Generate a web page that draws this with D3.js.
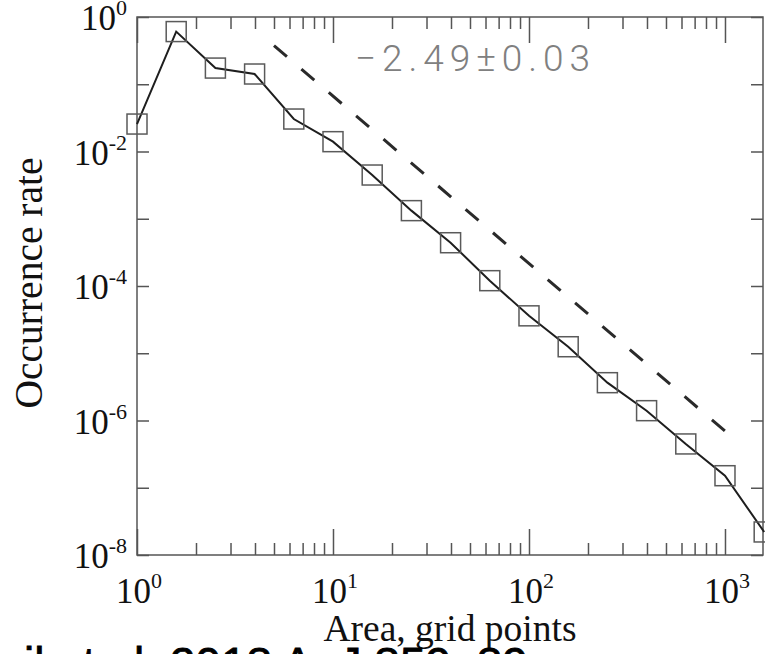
<!DOCTYPE html>
<html><head><meta charset="utf-8">
<script src="https://cdn.jsdelivr.net/npm/d3@7"></script>
<style>
  body { margin: 0; background: #fff; }
  svg { display: block; }
</style>
</head><body>
<svg id="chart" width="765" height="654"></svg>
<script>
// Occurrence rate of region areas in log-spaced bins
const areas = [1, 1.585, 2.512, 3.981, 6.310, 10, 15.85, 25.12, 39.81, 63.10, 100, 158.5, 251.2, 398.1, 631.0, 1000, 1585];
const rates = [0.0256, 0.607, 0.174, 0.142, 0.0304, 0.0140, 4.47e-3, 1.32e-3, 4.4e-4, 1.2e-4, 3.6e-5, 1.25e-5, 3.65e-6, 1.4e-6, 4.48e-7, 1.51e-7, 2.2e-8];

// Power-law fit (dashed)
const fitSlope = -2.49;
const fitErr = 0.03;
const fitNorm = 20.6;
const fitRange = [5, 1000];

// Axis ticks
const xMajorTicks = [1, 10, 100, 1000];
const xTickExps = ["0", "1", "2", "3"];
const yMajorTicks = [1, 1e-2, 1e-4, 1e-6, 1e-8];
const yTickExps = ["0", "-2", "-4", "-6", "-8"];
const yMinorTicks = [1e-1, 1e-3, 1e-5, 1e-7];

const xTitle = "Area, grid points";
const yTitle = "Occurrence rate";
const citation = "il et al. 2018 ApJ 859, 89";

const svg = d3.select("#chart");
const plotLeft = 137, plotRight = 763, plotTop = 17, plotBottom = 555;

const x = d3.scaleLog().domain([1, 1563]).range([plotLeft, plotRight]);
const y = d3.scaleLog().domain([1e-8, 1]).range([plotBottom, plotTop]);

const xMinorTicks = [];
[1, 10, 100, 1000].forEach(d => {
  for (let m = 2; m <= 9; m++) if (d * m < x.domain()[1]) xMinorTicks.push(d * m);
});

const serif = "'Liberation Serif', 'Times New Roman', serif";
const frameColor = "#555";

function styleAxis(g) {
  g.select(".domain").remove();
  g.selectAll(".tick line").attr("stroke", frameColor).attr("stroke-width", 1.5);
  g.selectAll(".tick text").remove();
}

// minor and major ticks on all four sides
svg.append("g").attr("transform", `translate(0,${plotBottom})`)
  .call(d3.axisBottom(x).tickValues(xMinorTicks).tickSize(-12)).call(styleAxis);
svg.append("g").attr("transform", `translate(0,${plotBottom})`)
  .call(d3.axisBottom(x).tickValues(xMajorTicks).tickSize(-26)).call(styleAxis);
svg.append("g").attr("transform", `translate(0,${plotTop})`)
  .call(d3.axisTop(x).tickValues(xMinorTicks).tickSize(-12)).call(styleAxis);
svg.append("g").attr("transform", `translate(0,${plotTop})`)
  .call(d3.axisTop(x).tickValues(xMajorTicks).tickSize(-26)).call(styleAxis);
svg.append("g").attr("transform", `translate(${plotLeft},0)`)
  .call(d3.axisLeft(y).tickValues(yMajorTicks.concat(yMinorTicks)).tickSize(-12)).call(styleAxis);
svg.append("g").attr("transform", `translate(${plotRight},0)`)
  .call(d3.axisRight(y).tickValues(yMajorTicks.concat(yMinorTicks)).tickSize(-12)).call(styleAxis);

// frame
svg.append("rect")
  .attr("x", plotLeft).attr("y", plotTop)
  .attr("width", plotRight - plotLeft).attr("height", plotBottom - plotTop)
  .attr("fill", "none").attr("stroke", frameColor).attr("stroke-width", 1.5);

// tick labels as 10 with superscript exponent
function powerLabel(sel, exp) {
  sel.append("tspan").text("10");
  sel.append("tspan").attr("dy", -15).attr("font-size", 22).text(exp);
}
xMajorTicks.forEach((v, i) => {
  svg.append("text")
    .attr("x", x(v) + 2).attr("y", 603)
    .attr("text-anchor", "middle")
    .attr("font-family", serif).attr("font-size", 35).attr("fill", "#111")
    .call(powerLabel, xTickExps[i]);
});
yMajorTicks.forEach((v, i) => {
  svg.append("text")
    .attr("x", 127).attr("y", y(v) + 13)
    .attr("text-anchor", "end")
    .attr("font-family", serif).attr("font-size", 35).attr("fill", "#111")
    .call(powerLabel, yTickExps[i]);
});

// axis titles
svg.append("text")
  .attr("x", (plotLeft + plotRight) / 2).attr("y", 641)
  .attr("text-anchor", "middle")
  .attr("font-family", serif).attr("font-size", 37.5).attr("fill", "#111")
  .text(xTitle);
svg.append("text")
  .attr("transform", `translate(42,${(plotTop + plotBottom) / 2 - 3}) rotate(-90)`)
  .attr("text-anchor", "middle")
  .attr("font-family", serif).attr("font-size", 39.5).attr("fill", "#111")
  .text(yTitle);

// dashed power-law fit
const fitPts = fitRange.map(a => [a, fitNorm * Math.pow(a, fitSlope)]);
svg.append("path")
  .datum(fitPts)
  .attr("d", d3.line().x(d => x(d[0])).y(d => y(d[1])))
  .attr("fill", "none").attr("stroke", "#2a2a2a").attr("stroke-width", 3)
  .attr("stroke-dasharray", "17 19");

// fit annotation
svg.append("text")
  .attr("x", 355).attr("y", 71)
  .attr("font-family", "Roboto, 'DejaVu Sans', sans-serif")
  .attr("font-weight", 300).attr("font-size", 37)
  .attr("fill", "#808080")
  .attr("textLength", 235).attr("lengthAdjust", "spacing")
  .text(`\u2212${Math.abs(fitSlope).toFixed(2)}\u00b1${fitErr.toFixed(2)}`);

// data line and square markers
const data = areas.map((a, i) => [a, rates[i]]);
svg.append("path")
  .datum(data)
  .attr("d", d3.line().x(d => x(d[0])).y(d => y(d[1])))
  .attr("fill", "none").attr("stroke", "#1e1e1e").attr("stroke-width", 2);
svg.selectAll("rect.marker")
  .data(data).enter().append("rect")
  .attr("class", "marker")
  .attr("x", d => x(d[0]) - 10).attr("y", d => y(d[1]) - 10)
  .attr("width", 20).attr("height", 20)
  .attr("fill", "none").attr("stroke", "#5a5a5a").attr("stroke-width", 1.5);

// citation line along the bottom edge
svg.append("text")
  .attr("x", 24).attr("y", 680)
  .attr("font-family", "'Liberation Sans', Arial, sans-serif")
  .attr("font-size", 46).attr("fill", "#000")
  .style("paint-order", "stroke").attr("stroke", "#000").attr("stroke-width", 0.8)
  .text(citation);
</script>
</body></html>
